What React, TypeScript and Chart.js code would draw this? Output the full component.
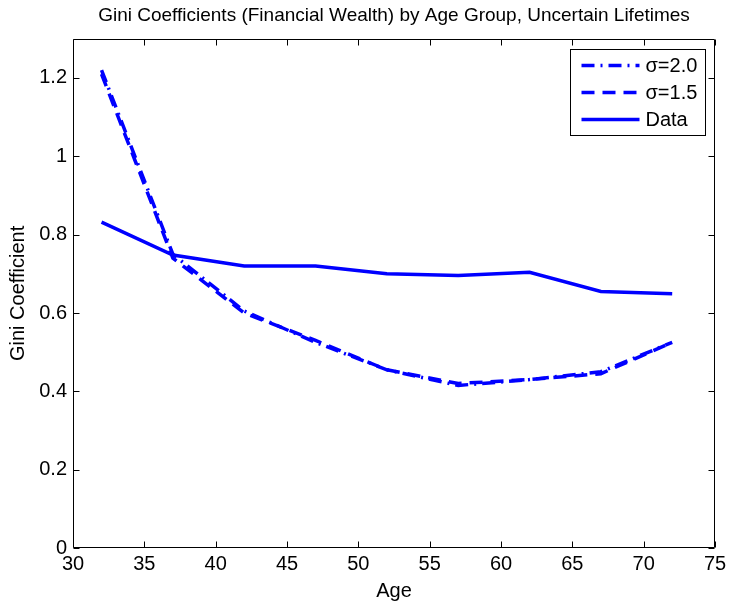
import React, { useEffect, useRef } from 'react';
import { Chart, registerables } from 'chart.js';

Chart.register(...registerables);

const ages = [32, 37, 42, 47, 52, 57, 62, 67, 72];
const sigma20 = [1.22, 0.75, 0.605, 0.525, 0.455, 0.415, 0.43, 0.45, 0.525];
const sigma15 = [1.21, 0.74, 0.6, 0.53, 0.455, 0.42, 0.43, 0.445, 0.525];
const dataGini = [0.832, 0.748, 0.72, 0.72, 0.7, 0.696, 0.704, 0.655, 0.649];
const seriesLabels = ['σ=2.0', 'σ=1.5', 'Data'];
const xRange = [30, 75];
const yRange = [0, 1.3];
const yTickMax = 1.2;

const titleText = 'Gini Coefficients (Financial Wealth) by Age Group, Uncertain Lifetimes';
const xTitle = 'Age';
const yTitle = 'Gini Coefficient';

const FONT = "'Liberation Sans', Arial, Helvetica, sans-serif";
const FS = 20;
const BLUE = '#0000ff';

const framePlugin = {
  id: 'matlabFrame',
  afterLayout(chart: any) {
    const tb = chart.titleBlock;
    if (tb) {
      tb.left = chart.chartArea.left;
      tb.right = chart.chartArea.right;
    }
  },
  afterDraw(chart: any) {
    const { ctx, chartArea: a, scales } = chart;
    ctx.save();
    ctx.strokeStyle = '#000';
    ctx.lineWidth = 1;
    const L = Math.round(a.left) + 0.5;
    const R = Math.round(a.right) - 0.5;
    const T = Math.round(a.top) + 0.5;
    const B = Math.round(a.bottom) - 0.5;
    ctx.beginPath();
    ctx.rect(L, T, R - L, B - T);
    ctx.stroke();
    const tl = 6;
    ctx.beginPath();
    scales.x.ticks.forEach((t: any) => {
      const px = Math.round(scales.x.getPixelForValue(t.value)) + 0.5;
      ctx.moveTo(px, B);
      ctx.lineTo(px, B - tl);
      ctx.moveTo(px, T);
      ctx.lineTo(px, T + tl);
    });
    scales.y.ticks.forEach((t: any) => {
      const py = Math.round(scales.y.getPixelForValue(t.value)) + 0.5;
      ctx.moveTo(L, py);
      ctx.lineTo(L + tl, py);
      ctx.moveTo(R, py);
      ctx.lineTo(R - tl, py);
    });
    ctx.stroke();

    // legend box
    const ds = chart.data.datasets;
    const boxW = 135;
    const rowH = 27;
    const boxH = 86;
    const bx = Math.round(a.right - 10 - boxW) + 0.5;
    const by = Math.round(a.top + 10) + 0.5;
    ctx.fillStyle = '#fff';
    ctx.fillRect(bx, by, boxW, boxH);
    ctx.strokeStyle = '#000';
    ctx.lineWidth = 1;
    ctx.strokeRect(bx, by, boxW, boxH);
    ctx.font = `${FS}px ${FONT}`;
    ctx.textBaseline = 'middle';
    ctx.textAlign = 'left';
    ds.forEach((d: any, i: number) => {
      const y = by + 16 + i * rowH;
      ctx.save();
      ctx.strokeStyle = d.borderColor;
      ctx.lineWidth = d.borderWidth;
      ctx.setLineDash(d.borderDash || []);
      ctx.beginPath();
      ctx.moveTo(bx + 11, y);
      ctx.lineTo(bx + 69, y);
      ctx.stroke();
      ctx.restore();
      ctx.fillStyle = '#000';
      ctx.fillText(d.label, bx + 75, y + 1);
    });
    ctx.restore();
  },
};

function App() {
  const ref = useRef<HTMLCanvasElement>(null);
  useEffect(() => {
    if (!ref.current) return;
    const mk = (ys: number[]) => ages.map((a, i) => ({ x: a, y: ys[i] }));
    const chart = new Chart(ref.current, {
      type: 'line',
      data: {
        datasets: [
          { label: seriesLabels[0], data: mk(sigma20), borderColor: BLUE, borderWidth: 3.5, borderDash: [13, 6, 2, 6], pointRadius: 0, tension: 0, fill: false },
          { label: seriesLabels[1], data: mk(sigma15), borderColor: BLUE, borderWidth: 3.5, borderDash: [13, 8], pointRadius: 0, tension: 0, fill: false },
          { label: seriesLabels[2], data: mk(dataGini), borderColor: BLUE, borderWidth: 3.5, pointRadius: 0, tension: 0, fill: false },
        ],
      },
      options: {
        animation: false,
        responsive: false,
        devicePixelRatio: 1,
        layout: { padding: { left: 0, right: 18, top: 0, bottom: 0 } },
        plugins: {
          legend: { display: false },
          tooltip: { enabled: false },
          title: {
            display: true,
            text: titleText,
            color: '#000',
            font: { family: FONT, size: 19, weight: 'normal' },
            padding: { top: 4, bottom: 12 },
          },
        },
        scales: {
          x: {
            type: 'linear',
            min: xRange[0],
            max: xRange[1],
            ticks: { stepSize: 5, color: '#000', font: { family: FONT, size: FS }, padding: 4, maxRotation: 0 },
            grid: { display: false, drawTicks: false },
            border: { display: false },
            title: { display: true, text: xTitle, color: '#000', font: { family: FONT, size: FS }, padding: { top: 0, bottom: 3 } },
            afterFit: (s: any) => { s.height = 58; },
          },
          y: {
            type: 'linear',
            min: yRange[0],
            max: yRange[1],
            ticks: {
              stepSize: 0.2,
              color: '#000',
              font: { family: FONT, size: FS },
              padding: 6,
              callback: (v: any) => String(Number(Number(v).toFixed(1))),
            },
            grid: { display: false, drawTicks: false },
            border: { display: false },
            title: { display: true, text: yTitle, color: '#000', font: { family: FONT, size: FS }, padding: { top: 6, bottom: 0 } },
            afterBuildTicks: (s: any) => { s.ticks = s.ticks.filter((t: any) => t.value <= yTickMax + 1e-9); },
            afterFit: (s: any) => { s.width = 73; },
          },
        },
      },
      plugins: [framePlugin],
    });
    return () => chart.destroy();
  }, []);
  return (
    <div style={{ position: 'absolute', left: 0, top: 0, width: 733, height: 606, background: '#fff' }}>
      <canvas ref={ref} width={733} height={606} style={{ display: 'block' }} />
    </div>
  );
}

export default App;
